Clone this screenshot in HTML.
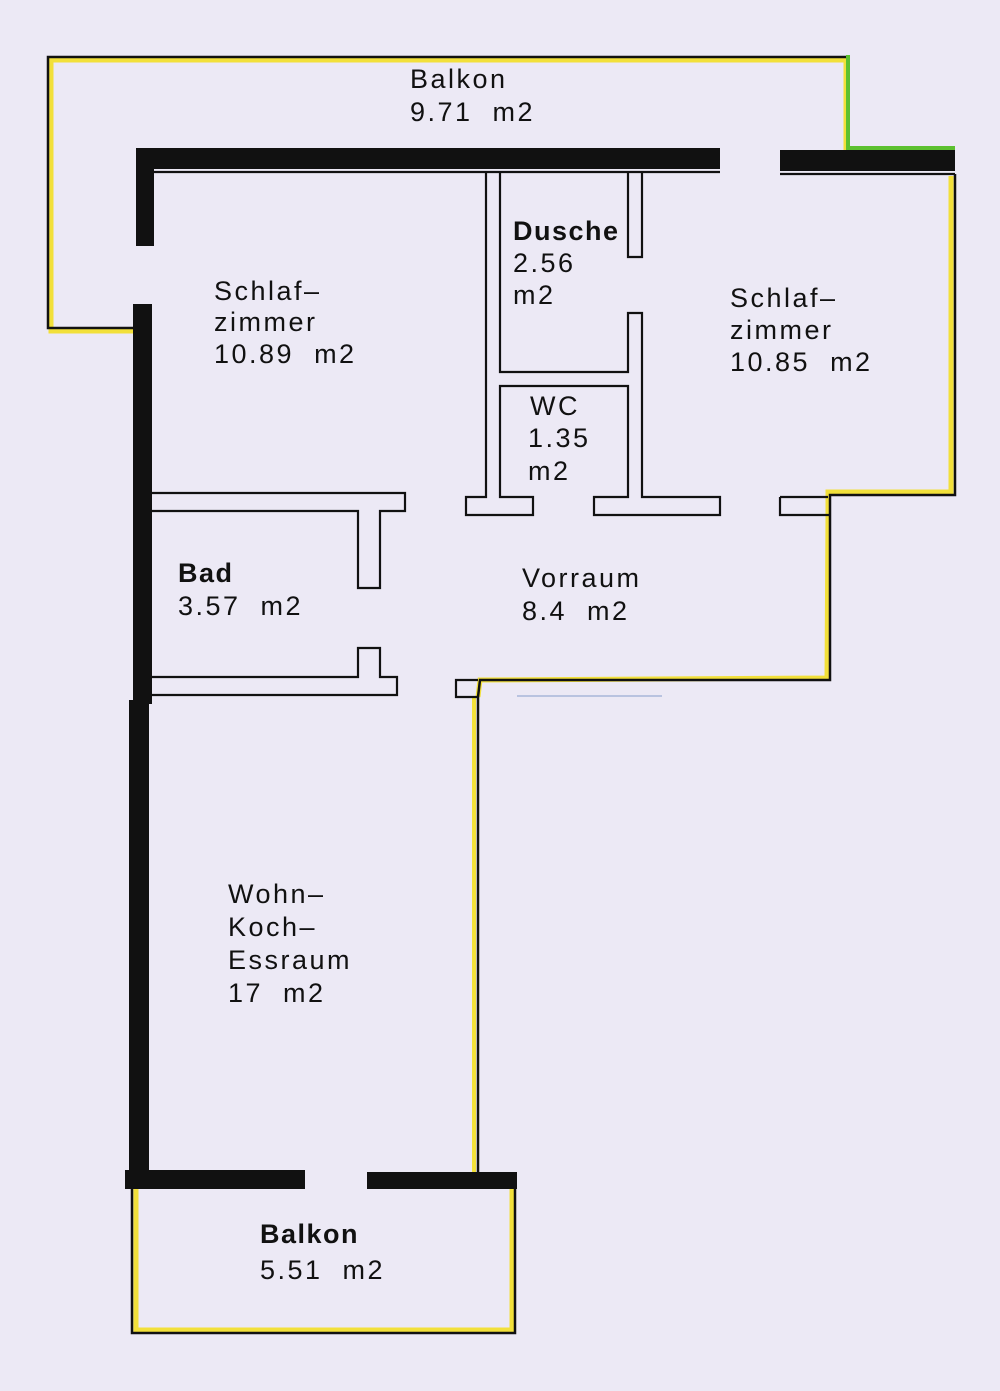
<!DOCTYPE html>
<html><head><meta charset="utf-8"><style>
html,body{margin:0;padding:0;background:#ece9f5;}
svg{display:block}
text{font-family:"Liberation Sans",sans-serif;font-size:27px;fill:#111;letter-spacing:2.5px;white-space:pre}
.b{font-weight:bold;letter-spacing:1.5px}
</style></head><body>
<svg width="1000" height="1391" viewBox="0 0 1000 1391" xmlns="http://www.w3.org/2000/svg">
<rect width="1000" height="1391" fill="#ece9f5"/>
<g fill="none" stroke-linejoin="miter">
<polyline points="135,331 51,331 51,60 846,60 846,150" stroke="#f2e03a" stroke-width="5"/>
<polyline points="135,328 48,328 48,57 848,57" stroke="#111" stroke-width="2.5"/>
<polyline points="848,55 848,148 955,148" stroke="#5cc030" stroke-width="4"/>
<polyline points="951,176 951,492 828,492 828,515 827,678 480,680 478,697" stroke="#f2e03a" stroke-width="5"/>
<polyline points="955,174 955,495 830,495 830,680 480,680 478,697" stroke="#111" stroke-width="2.5"/>
<polyline points="136,1188 136,1330 512,1330 512,1188" stroke="#f2e03a" stroke-width="5"/>
<polyline points="132,1188 132,1333 515,1333 515,1188" stroke="#111" stroke-width="2.5"/>
<line x1="474" y1="697" x2="474" y2="1172" stroke="#f2e03a" stroke-width="4"/>
<line x1="478" y1="697" x2="478" y2="1172" stroke="#111" stroke-width="2.5"/>
</g>
<g fill="#111">
<rect x="136" y="148" width="584" height="21"/>
<rect x="136" y="148" width="18" height="98"/>
<rect x="133" y="304" width="19" height="400"/>
<rect x="129" y="700" width="20" height="488"/>
<rect x="780" y="150" width="175" height="21"/>
<rect x="125" y="1170" width="180" height="19"/>
<rect x="367" y="1172" width="150" height="17"/>
</g>
<g fill="none" stroke="#111" stroke-width="2.2">
<line x1="154" y1="172" x2="720" y2="172"/>
<line x1="780" y1="174" x2="955" y2="174"/>
<polyline points="486,172 486,497 466,497 466,515 533,515 533,497 500,497 500,386 628,386 628,497 594,497 594,515 720,515 720,497 642,497 642,313 628,313 628,372 500,372 500,172"/>
<polyline points="628,172 628,257 642,257 642,172"/>
<polyline points="780,497 780,515 830,515"/>
<line x1="780" y1="497" x2="828" y2="497"/>
<polyline points="152,493 405,493 405,511 380,511 380,588 358,588 358,511 152,511"/>
<polyline points="152,677 358,677 358,648 380,648 380,677 397,677 397,695 152,695"/>
<polyline points="478,680 456,680 456,697 478,697"/>
</g>
<line x1="517" y1="696" x2="662" y2="696" stroke="#b9c3e0" stroke-width="2"/>
<text x="410" y="88">Balkon</text>
<text x="410" y="121">9.71  m2</text>
<text x="214" y="300">Schlaf–</text>
<text x="214" y="331">zimmer</text>
<text x="214" y="363">10.89  m2</text>
<text x="513" y="240" class="b">Dusche</text>
<text x="513" y="272">2.56</text>
<text x="513" y="304">m2</text>
<text x="730" y="307">Schlaf–</text>
<text x="730" y="339">zimmer</text>
<text x="730" y="371">10.85  m2</text>
<text x="530" y="415">WC</text>
<text x="528" y="447">1.35</text>
<text x="528" y="480">m2</text>
<text x="178" y="582" class="b">Bad</text>
<text x="178" y="615">3.57  m2</text>
<text x="522" y="587">Vorraum</text>
<text x="522" y="620">8.4  m2</text>
<text x="228" y="903">Wohn–</text>
<text x="228" y="936">Koch–</text>
<text x="228" y="969">Essraum</text>
<text x="228" y="1002">17  m2</text>
<text x="260" y="1243" class="b">Balkon</text>
<text x="260" y="1279">5.51  m2</text>
</svg>
</body></html>
